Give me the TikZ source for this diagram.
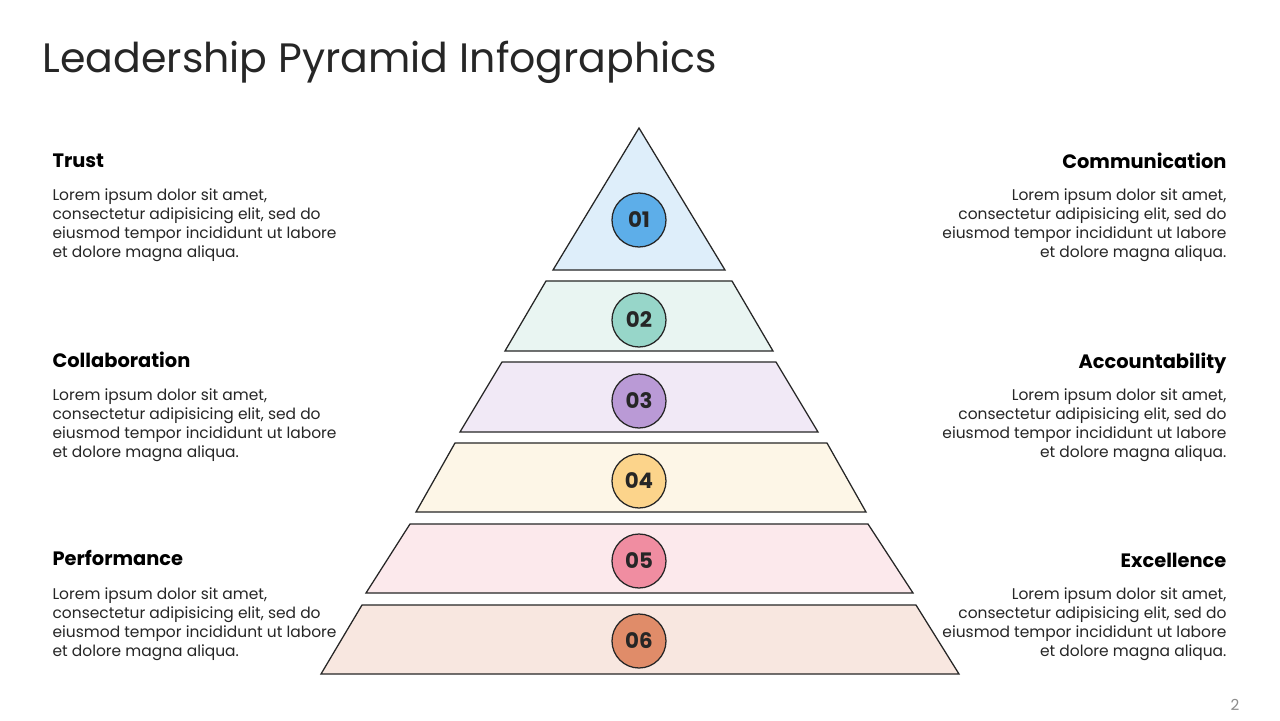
\documentclass[tikz,border=0pt]{standalone}
\usepackage{fontspec}
\setmainfont{Poppins}
\definecolor{fillA}{HTML}{DEEEFA}
\definecolor{fillB}{HTML}{E9F5F2}
\definecolor{fillC}{HTML}{F1E9F6}
\definecolor{fillD}{HTML}{FDF6E7}
\definecolor{fillE}{HTML}{FCE9EC}
\definecolor{fillF}{HTML}{F8E7E0}
\definecolor{dotA}{HTML}{5DAEE9}
\definecolor{dotB}{HTML}{97D6C9}
\definecolor{dotC}{HTML}{BA9AD6}
\definecolor{dotD}{HTML}{FCD48B}
\definecolor{dotE}{HTML}{F08DA1}
\definecolor{dotF}{HTML}{E08C69}
\definecolor{ink}{HTML}{262626}

\begin{document}
\begin{tikzpicture}[x=.0125cm,y=-.0125cm,
  tier/.style={draw=ink,line width=.45pt},
  num/.style={circle,draw=ink,line width=.45pt,minimum size=19.2pt,inner sep=0pt,
    font=\fontsize{7.6}{8}\selectfont\bfseries,text=ink},
  head/.style={font=\fontsize{6.9}{8}\selectfont\bfseries,inner sep=0pt,text=black},
  body/.style={font=\fontsize{5.5}{6.76}\selectfont,inner sep=0pt,text=ink}]
\useasboundingbox[fill=white] (0,0) rectangle (1280,720);
\node[anchor=base west,inner sep=0pt,font=\fontsize{14.6}{18}\selectfont,text=ink] (title) at (42,72) {Leadership Pyramid Infographics};
% pyramid
\path[tier,fill=fillA] (639,128) -- (725,270) -- (553,270) -- cycle;
\path[tier,fill=fillB] (546,281) -- (732,281) -- (773,351) -- (505,351) -- cycle;
\path[tier,fill=fillC] (502,362) -- (776,362) -- (818,432) -- (460,432) -- cycle;
\path[tier,fill=fillD] (455,443) -- (827,443) -- (866,512) -- (416,512) -- cycle;
\path[tier,fill=fillE] (410,524) -- (868,524) -- (913,593) -- (366,593) -- cycle;
\path[tier,fill=fillF] (362,605) -- (916,605) -- (959,674) -- (321,674) -- cycle;
\node[num,fill=dotA] (n1) at (639,220) {01};
\node[num,fill=dotB] (n2) at (639,320) {02};
\node[num,fill=dotC] (n3) at (639,401) {03};
\node[num,fill=dotD] (n4) at (639,481) {04};
\node[num,fill=dotE] (n5) at (639,561) {05};
\node[num,fill=dotF] (n6) at (639,641) {06};
% left column
\node[head,anchor=base west] (trust) at (52,167) {Trust};
\node[body,anchor=north west,align=left] (trustTxt) at (52,188) {Lorem ipsum dolor sit amet,\\consectetur adipisicing elit, sed do\\eiusmod tempor incididunt ut labore\\et dolore magna aliqua.};
\node[head,anchor=base west] (collab) at (52,367) {Collaboration};
\node[body,anchor=north west,align=left] (collabTxt) at (52,388) {Lorem ipsum dolor sit amet,\\consectetur adipisicing elit, sed do\\eiusmod tempor incididunt ut labore\\et dolore magna aliqua.};
\node[head,anchor=base west] (perf) at (52,565) {Performance};
\node[body,anchor=north west,align=left] (perfTxt) at (52,587) {Lorem ipsum dolor sit amet,\\consectetur adipisicing elit, sed do\\eiusmod tempor incididunt ut labore\\et dolore magna aliqua.};
% right column
\node[head,anchor=base east] (comm) at (1227,168) {Communication};
\node[body,anchor=north east,align=right] (commTxt) at (1227,188) {Lorem ipsum dolor sit amet,\\consectetur adipisicing elit, sed do\\eiusmod tempor incididunt ut labore\\et dolore magna aliqua.};
\node[head,anchor=base east] (acct) at (1227,368) {Accountability};
\node[body,anchor=north east,align=right] (acctTxt) at (1227,388) {Lorem ipsum dolor sit amet,\\consectetur adipisicing elit, sed do\\eiusmod tempor incididunt ut labore\\et dolore magna aliqua.};
\node[head,anchor=base east] (exc) at (1227,567) {Excellence};
\node[body,anchor=north east,align=right] (excTxt) at (1227,587) {Lorem ipsum dolor sit amet,\\consectetur adipisicing elit, sed do\\eiusmod tempor incididunt ut labore\\et dolore magna aliqua.};
\node[anchor=base,inner sep=0pt,font=\fontsize{5.4}{6}\selectfont,text=black!45] (page) at (1235,710) {2};
\end{tikzpicture}
\end{document}
